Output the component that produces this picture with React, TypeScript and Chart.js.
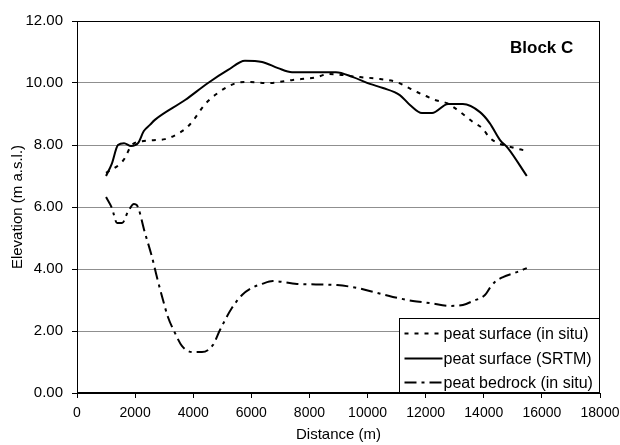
import React, { useEffect, useRef } from "react";
import { Chart, registerables } from "chart.js";

Chart.register(...registerables);

const FONT = "'Liberation Sans', Arial, Helvetica, sans-serif";

// Distance (m) and elevation (m a.s.l.)
const situX = [1000, 1480, 1650, 1860, 2240, 3030, 3540, 3800, 4060, 4300, 4510, 4850, 5160, 5500, 5880, 6570, 7430, 8260, 8640, 9740, 10430, 11010, 11360, 11700, 12010, 12320, 12730, 12940, 13280, 13630, 13940, 14210, 14490, 14800, 15180, 15490];
const situY = [7.1, 7.39, 7.58, 7.97, 8.12, 8.19, 8.4, 8.58, 8.87, 9.19, 9.42, 9.68, 9.87, 10.0, 10.03, 10.0, 10.1, 10.19, 10.29, 10.19, 10.13, 10.03, 9.87, 9.71, 9.58, 9.45, 9.35, 9.23, 9.0, 8.74, 8.55, 8.23, 8.06, 7.97, 7.87, 7.81];

const srtmX = [1000, 1200, 1410, 1620, 1860, 2100, 2300, 2510, 2680, 3720, 4510, 5200, 5780, 6370, 6920, 7400, 8910, 9500, 10080, 10530, 11110, 11460, 11870, 12220, 12770, 13280, 13870, 14210, 14560, 14830, 15480];
const srtmY = [7.0, 7.4, 8.0, 8.06, 7.97, 8.06, 8.45, 8.65, 8.81, 9.45, 10.0, 10.42, 10.72, 10.68, 10.48, 10.35, 10.35, 10.19, 9.97, 9.84, 9.61, 9.29, 9.03, 9.03, 9.32, 9.32, 9.06, 8.7, 8.16, 7.9, 7.0];

const bedX = [1000, 1200, 1380, 1550, 1750, 1960, 2060, 2340, 2580, 2750, 2960, 3130, 3370, 3610, 3960, 4300, 4680, 4920, 5330, 5680, 6020, 6370, 6740, 7570, 8950, 9640, 10190, 10870, 11560, 12150, 12840, 13280, 13630, 14040, 14210, 14380, 14660, 15140, 15480];
const bedY = [6.32, 5.97, 5.48, 5.48, 5.84, 6.1, 6.06, 5.16, 4.39, 3.74, 3.0, 2.45, 1.94, 1.52, 1.32, 1.32, 1.55, 2.03, 2.74, 3.16, 3.39, 3.52, 3.61, 3.52, 3.48, 3.39, 3.26, 3.1, 2.97, 2.9, 2.81, 2.84, 2.97, 3.16, 3.39, 3.58, 3.74, 3.9, 4.03];

const seriesLabels = ["peat surface (in situ)", "peat surface (SRTM)", "peat bedrock (in situ)"];
const blockLabel = "Block C";
const xTitle = "Distance (m)";
const yTitle = "Elevation (m a.s.l.)";

const toPts = (xs: number[], ys: number[]) => xs.map((x, i) => ({ x, y: ys[i] }));

const framePlugin = {
  id: "frameLegend",
  afterDraw(chart: any) {
    const { ctx, chartArea } = chart;
    const l = Math.round(chartArea.left) + 0.5;
    const t = Math.round(chartArea.top) + 0.5;
    const r = Math.round(chartArea.right) - 0.5;
    const b = Math.round(chartArea.bottom) - 0.5;
    ctx.save();
    ctx.strokeStyle = "#000";
    ctx.lineWidth = 1;
    ctx.setLineDash([]);
    ctx.strokeRect(l, t, r - l, b - t);

    // legend box
    const bw = 200, bh = 74;
    const bx = r - bw;
    const by = b - bh;
    ctx.fillStyle = "#fff";
    ctx.fillRect(bx, by, bw, bh);
    ctx.strokeRect(bx, by, bw, bh);
    ctx.font = `16px ${FONT}`;
    ctx.textBaseline = "middle";
    ctx.textAlign = "left";
    const rows = [14, 39, 63];
    chart.data.datasets.forEach((ds: any, i: number) => {
      const y = Math.round(by + rows[i]) + 0.5;
      ctx.strokeStyle = ds.borderColor;
      ctx.lineWidth = ds.borderWidth;
      ctx.setLineDash(ds.borderDash || []);
      ctx.beginPath();
      ctx.moveTo(bx + 5, y);
      ctx.lineTo(bx + 43, y);
      ctx.stroke();
      ctx.fillStyle = "#000";
      ctx.fillText(ds.label, bx + 44, y + 1);
    });

    ctx.font = `bold 17px ${FONT}`;
    ctx.textAlign = "left";
    ctx.textBaseline = "middle";
    ctx.fillStyle = "#000";
    ctx.fillText(blockLabel, 510, 48);
    ctx.restore();
  },
};

export default function App() {
  const ref = useRef<HTMLCanvasElement>(null);
  useEffect(() => {
    document.body.style.margin = "0";
    const common = {
      borderColor: "#000",
      borderWidth: 2,
      pointRadius: 0,
      fill: false,
      cubicInterpolationMode: "monotone" as const,
    };
    const chart = new Chart(ref.current!, {
      type: "line",
      data: {
        datasets: [
          { ...common, label: seriesLabels[0], data: toPts(situX, situY), borderDash: [4, 6] },
          { ...common, label: seriesLabels[1], data: toPts(srtmX, srtmY), borderDash: [] },
          { ...common, label: seriesLabels[2], data: toPts(bedX, bedY), borderDash: [12, 5, 3, 5] },
        ],
      },
      options: {
        animation: false,
        responsive: false,
        layout: { padding: { top: 21, right: 20, left: 0, bottom: 0 } },
        plugins: { legend: { display: false }, tooltip: { enabled: false } },
        scales: {
          x: {
            type: "linear",
            min: 0,
            max: 18000,
            ticks: {
              stepSize: 2000,
              color: "#000",
              font: { family: FONT, size: 14 },
              padding: 7,
              maxRotation: 0,
              callback: (v: any) => String(v),
            },
            grid: { drawOnChartArea: false, tickLength: 5, tickColor: "#000" },
            border: { color: "#000" },
            title: { display: true, text: xTitle, color: "#000", font: { family: FONT, size: 15 }, padding: { top: 0, bottom: 1 } },
            afterFit: (s: any) => { s.height = 52; s.paddingLeft = 0; s.paddingRight = 0; },
          },
          y: {
            type: "linear",
            min: 0,
            max: 12,
            ticks: {
              stepSize: 2,
              color: "#000",
              font: { family: FONT, size: 15 },
              padding: 9,
              callback: (v: any) => Number(v).toFixed(2),
            },
            grid: { color: "#8f8f8f", tickLength: 5, tickColor: "#000" },
            border: { color: "#000" },
            title: { display: true, text: yTitle, color: "#000", font: { family: FONT, size: 15 }, padding: { top: 9, bottom: 0 } },
            afterFit: (s: any) => { s.width = 77; s.paddingTop = 0; s.paddingBottom = 0; },
          },
        },
      },
      plugins: [framePlugin],
    } as any);
    return () => chart.destroy();
  }, []);
  return (
    <div style={{ width: 620, height: 445 }}>
      <canvas ref={ref} width={620} height={445} style={{ display: "block" }} />
    </div>
  );
}
